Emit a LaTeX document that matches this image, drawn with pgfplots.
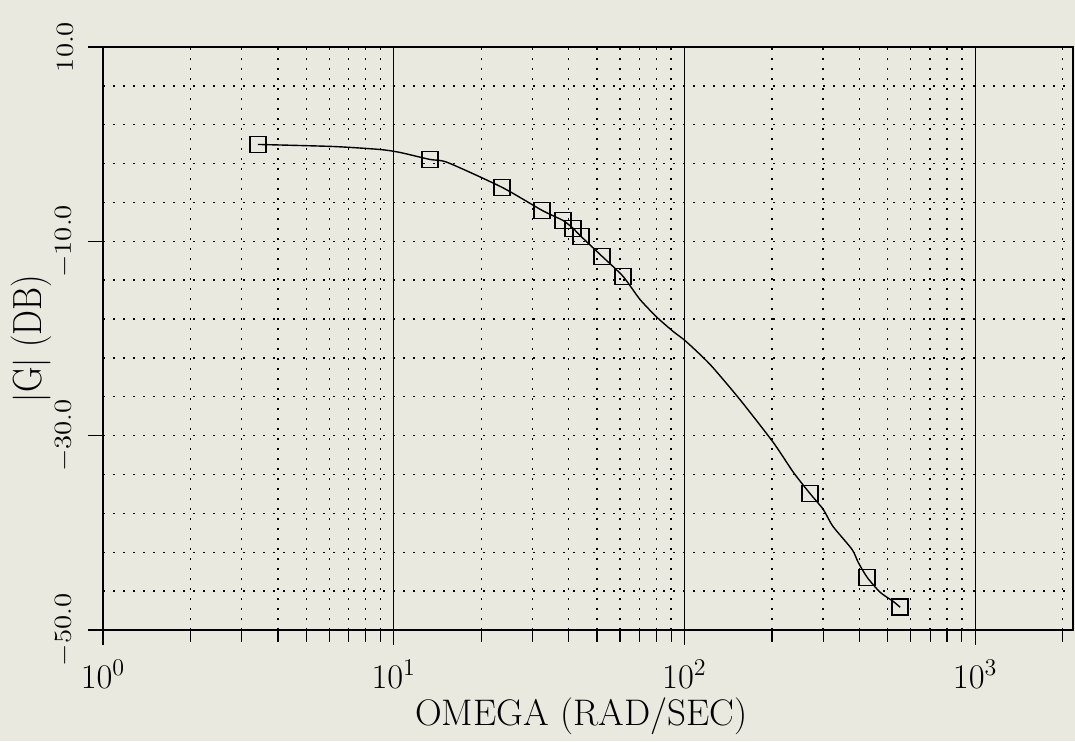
\documentclass[border=0pt]{standalone}
\usepackage{graphicx}
\usepackage{pgfplots}
\pgfplotsset{compat=1.18}
\usetikzlibrary{backgrounds}
\definecolor{paper}{RGB}{233,233,224}

\begin{document}
\begin{tikzpicture}[show background rectangle,
    background rectangle/.style={fill=paper, draw=none}, inner frame sep=0pt]
\begin{axis}[
    name=ax,
    scale only axis, width=485pt, height=291.5pt,
    xmode=log, xmin=1, xmax=2170,
    ymin=-50, ymax=10,
    xtick={1,10,100,1000},
    minor xtick={2,3,4,5,6,7,8,9,20,30,40,50,60,70,80,90,200,300,400,500,600,700,800,900,2000},
    ytick={10,-10,-30,-50},
    minor ytick={-46,-42,-38,-34,-26,-22,-18,-14,-6,-2,2,6},
    grid=both,
    major x grid style={solid, line width=0.5pt, black},
    minor x grid style={black, line width=0.7pt, dash pattern=on 0.8pt off 4.2pt},
    major y grid style={black, line width=0.7pt, dash pattern=on 0.8pt off 4.2pt},
    minor y grid style={black, line width=0.7pt, dash pattern=on 0.8pt off 4.2pt},
    axis line style={line width=1.3pt},
    tick align=outside, tick pos=left,
    major tick length=7.5pt, minor tick length=6pt,
    tick style={black, line width=0.6pt},
    minor y tick style={draw=none},
    xticklabel shift=4pt,
    yticklabel shift=4pt,
    xticklabel style={font=\fontsize{18.5}{20}\selectfont},
    yticklabel style={rotate=90, anchor=south, font=\fontsize{15.5}{17}\selectfont},
    yticklabel={\scalebox{1}[0.85]{\pgfmathprintnumber[fixed,fixed zerofill,precision=1]{\tick}}},
    xlabel={OMEGA (RAD/SEC)},
    ylabel={\scalebox{0.95}[1.1]{$|$G$|$ (DB)}},
    xlabel style={at={(axis description cs:0.493,-0.148)}, anchor=center,
        font=\fontsize{18.5}{20}\selectfont},
    ylabel style={at={(axis description cs:-0.0742,0.5)}, anchor=center,
        font=\fontsize{18.5}{20}\selectfont},
]
\addplot[black, line width=0.7pt, smooth, tension=0.4] coordinates {
    (3.41,-0.03) (6.18,-0.24) (8.97,-0.55) (10.5,-0.85) (13.3,-1.57)
    (15.3,-1.88) (23.6,-4.45) (32.4,-6.82) (38.2,-7.85) (41.4,-8.67)
    (44.1,-9.50) (52.1,-11.55) (61.5,-13.61) (70.3,-15.98) (80.5,-17.83)
    (91.4,-19.27) (101.2,-20.3) (122.4,-22.66) (155,-26.27) (202,-30.69)
    (237,-33.78) (270,-35.94) (300,-37.58) (324,-39.33) (377,-41.70)
    (396,-43.04) (425,-44.58) (471,-46.12) (522,-47.05) (552,-47.66)
};
\addplot[only marks, black, mark=square, mark size=4pt,
    mark options={line width=0.8pt}] coordinates {
    (3.41,-0.03) (13.3,-1.57) (23.6,-4.45) (32.4,-6.82) (38.2,-7.85)
    (41.4,-8.67) (44.1,-9.50) (52.1,-11.55) (61.5,-13.61) (270,-35.94)
    (425,-44.58) (552,-47.66)
};
\end{axis}
\path ([shift={(-51.5pt,-55.5pt)}]ax.south west) rectangle ([shift={(1pt,23.5pt)}]ax.north east);
\end{tikzpicture}
\end{document}
